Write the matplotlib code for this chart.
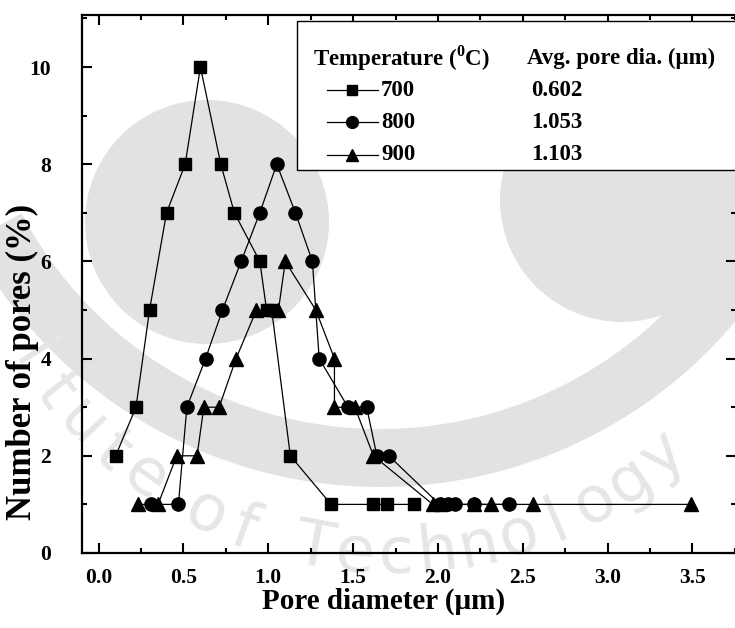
import matplotlib
matplotlib.use("Agg")
import numpy as np
import matplotlib.pyplot as plt
from matplotlib.patches import Circle, Rectangle, Wedge
from matplotlib.ticker import MultipleLocator, FormatStrFormatter

# pore size distribution
d700 = [0.10, 0.22, 0.30, 0.40, 0.51, 0.60, 0.72, 0.80, 0.95, 0.99, 1.02, 1.13,
        1.37, 1.62, 1.70, 1.86]
n700 = [2, 3, 5, 7, 8, 10, 8, 7, 6, 5, 5, 2, 1, 1, 1, 1]

d800 = [0.31, 0.47, 0.52, 0.63, 0.73, 0.84, 0.95, 1.05, 1.16, 1.26, 1.30, 1.47,
        1.58, 1.64, 1.71, 2.01, 2.06, 2.10, 2.21, 2.42]
n800 = [1, 1, 3, 4, 5, 6, 7, 8, 7, 6, 4, 3, 3, 2, 2, 1, 1, 1, 1, 1]

d900 = [0.23, 0.35, 0.46, 0.58, 0.62, 0.71, 0.81, 0.93, 1.06, 1.10, 1.28, 1.39,
        1.39, 1.51, 1.62, 1.97, 2.02, 2.21, 2.31, 2.56, 3.49]
n900 = [1, 1, 2, 2, 3, 3, 4, 5, 5, 6, 5, 4, 3, 3, 2, 1, 1, 1, 1, 1, 1]

temperaturas = ["700", "800", "900"]
diam_medio = ["0.602", "1.053", "1.103"]
marcadores = ["s", "o", "^"]
tam_marcador = [8.5, 9.5, 10]

marca_agua = "Institute of Technology"

W, H = 735, 628
plt.rcParams["font.family"] = ["Liberation Serif", "DejaVu Serif"]
plt.rcParams["font.weight"] = "bold"
plt.rcParams["mathtext.fontset"] = "custom"
plt.rcParams["mathtext.rm"] = "Liberation Serif:bold"
plt.rcParams["mathtext.bf"] = "Liberation Serif:bold"


def fx(px):
    return px / W


def fy(py):
    return 1 - py / H


fig = plt.figure(figsize=(W / 100, H / 100), dpi=100)

# marca de agua gris del fondo (aproximada), en pixeles
fondo = fig.add_axes([0, 0, 1, 1], zorder=-5)
fondo.set_xlim(0, W)
fondo.set_ylim(H, 0)
fondo.axis("off")
gris = "#e2e2e2"
fondo.add_patch(Circle((207, 222), 122, color=gris, lw=0))
fondo.add_patch(Circle((622, 200), 122, color=gris, lw=0))
fondo.add_patch(Wedge((380, 23), 464, 28, 152, width=58, color=gris, lw=0))

# texto curvado de la marca de agua (solo lo que cae dentro de la imagen)
cx, cy, r = 390, 130, 425
ang = 170.0
for ch in marca_agua:
    rad = np.deg2rad(ang)
    px, py = cx + r * np.cos(rad), cy + r * np.sin(rad)
    if px > 28:
        fondo.text(px, py, ch, fontsize=46, family="DejaVu Sans",
                   weight="normal", color="#e6e6e6", rotation=90 - ang,
                   ha="center", va="center", rotation_mode="anchor")
    ang -= 5.6 if ch != " " else 4.0

ax = fig.add_axes([fx(81.7), fy(553), 1 - fx(81.7) + 0.002, (553 - 15) / H])
ax.patch.set_alpha(0)

datos = [(d700, n700), (d800, n800), (d900, n900)]
for (d, n), m, ms in zip(datos, marcadores, tam_marcador):
    ax.plot(d, n, color="black", lw=0.9, marker=m, ms=ms,
            markerfacecolor="black", markeredgecolor="black", zorder=3)

ax.set_xlim(-0.1, 3.76)
ax.set_ylim(0, 11.07)
ax.xaxis.set_major_locator(MultipleLocator(0.5))
ax.xaxis.set_minor_locator(MultipleLocator(0.25))
ax.yaxis.set_major_locator(MultipleLocator(2))
ax.yaxis.set_minor_locator(MultipleLocator(1))
ax.xaxis.set_major_formatter(FormatStrFormatter("%.1f"))
ax.tick_params(which="both", direction="in", top=True, right=True, width=1.5)
ax.tick_params(which="major", length=7, labelsize=15.5, pad=11)
ax.tick_params(which="minor", length=3.5)
ax.tick_params(axis="y", which="major", pad=22)
for s in ax.spines.values():
    s.set_linewidth(1.6)

fig.text(fx(384), fy(601), "Pore diameter (μm)", fontsize=21,
         ha="center", va="center")
fig.text(fx(22), fy(362), "Number of pores (%)", fontsize=25, rotation=90,
         ha="center", va="center")

# leyenda dibujada a mano: caja con dos columnas
fig.patches.append(Rectangle((fx(297), fy(170)), 1 - fx(297) + 0.01, (170 - 21) / H,
                             transform=fig.transFigure, facecolor="white",
                             edgecolor="black", lw=1.0, zorder=5))
fig.text(fx(313), fy(58), r"Temperature ($^{0}$C)", fontsize=16.5,
         va="center", ha="left", zorder=6)
fig.text(fx(527), fy(58), "Avg. pore dia. (μm)", fontsize=16.5,
         va="center", ha="left", zorder=6)
filas = [90, 122, 155]
for py, t, v, m, ms in zip(filas, temperaturas, diam_medio, marcadores, tam_marcador):
    fig.add_artist(plt.Line2D([fx(327), fx(378)], [fy(py), fy(py)], color="black",
                              lw=0.9, transform=fig.transFigure, zorder=6))
    fig.add_artist(plt.Line2D([fx(352)], [fy(py)], marker=m, ms=ms - 1,
                              color="black", transform=fig.transFigure, zorder=7))
    fig.text(fx(381), fy(py), t, fontsize=16.5, va="center", ha="left", zorder=6)
    fig.text(fx(531), fy(py), v, fontsize=16.5, va="center", ha="left", zorder=6)

fig.savefig("out.png", dpi=100)
